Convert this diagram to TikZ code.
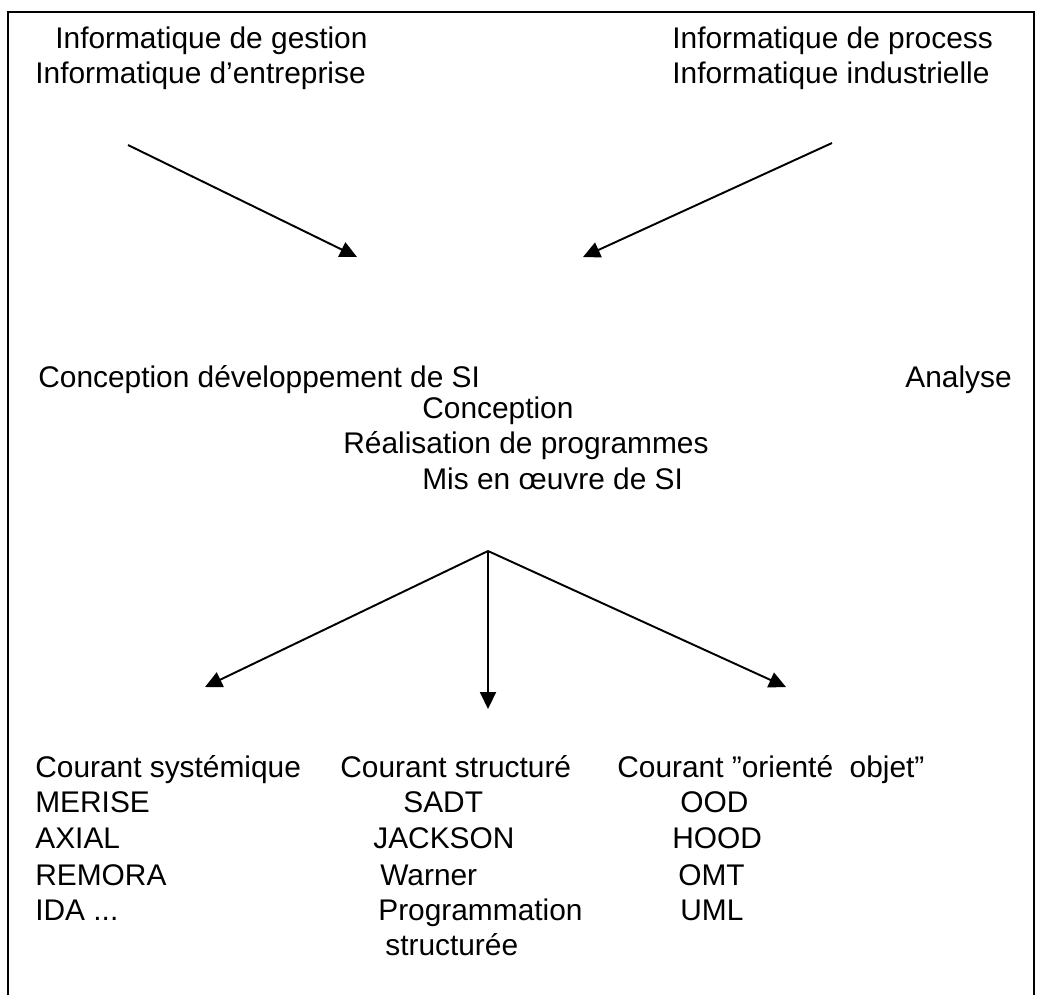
\documentclass[tikz,border=0pt]{standalone}
\usepackage{fontspec}
\setmainfont{Liberation Sans}
\usetikzlibrary{arrows.meta,positioning}

\begin{document}
\begin{tikzpicture}[x=0.02cm,y=-0.02cm,
  lbl/.style={anchor=base west,inner sep=0pt,font=\fontsize{17}{20}\selectfont},
  arr/.style={-{Triangle[length=3.4mm,width=3.2mm]},line width=1.1pt}]
  \useasboundingbox (0,0) rectangle (1043,995);
  \draw[line width=1.2pt] (8,995) -- (8,12) -- (1034,12) -- (1034,995);
  % les deux sources
  \node[lbl] (G1) at (55,48) {Informatique de gestion};
  \node[lbl] (G2) at (35,83) {Informatique d'entreprise};
  \node[lbl] (P1) at (672,48) {Informatique de process};
  \node[lbl] (P2) at (672,83) {Informatique industrielle};
  \coordinate (GA) at (128,145);
  \coordinate (GB) at (357,257);
  \coordinate (PA) at (832,143);
  \coordinate (PB) at (583,257);
  \draw[arr] (GA) -- (GB);
  \draw[arr] (PA) -- (PB);
  % centre
  \node[lbl] (D1) at (38,387) {Conception développement de SI};
  \node[lbl] (A1) at (905,387) {Analyse};
  \node[lbl] (C1) at (422,418) {Conception};
  \node[lbl] (C2) at (343,453) {Réalisation de programmes};
  \node[lbl] (C3) at (422,489) {Mis en œuvre de SI};
  \coordinate (K) at (488,551);
  \coordinate (KL) at (205,687);
  \coordinate (KM) at (488,709);
  \coordinate (KR) at (786,687);
  \draw[arr] (K) -- (KL);
  \draw[arr] (K) -- (KM);
  \draw[arr] (K) -- (KR);
  % courants
  \node[lbl] (S1) at (35,777) {Courant systémique};
  \node[lbl] (S2) at (35,812) {MERISE};
  \node[lbl] (S3) at (35,848) {AXIAL};
  \node[lbl] (S4) at (35,885) {REMORA};
  \node[lbl] (S5) at (35,920) {IDA ...};
  \node[lbl] (T1) at (340,777) {Courant structuré};
  \node[lbl] (T2) at (403,812) {SADT};
  \node[lbl] (T3) at (373,848) {JACKSON};
  \node[lbl] (T4) at (380,885) {Warner};
  \node[lbl] (T5) at (378,920) {Programmation};
  \node[lbl] (T6) at (385,955) {structurée};
  \node[lbl] (O1) at (617,777) {Courant ''orienté\ \ objet''};
  \node[lbl] (O2) at (680,812) {OOD};
  \node[lbl] (O3) at (672,848) {HOOD};
  \node[lbl] (O4) at (678,885) {OMT};
  \node[lbl] (O5) at (680,920) {UML};
\end{tikzpicture}
\end{document}
